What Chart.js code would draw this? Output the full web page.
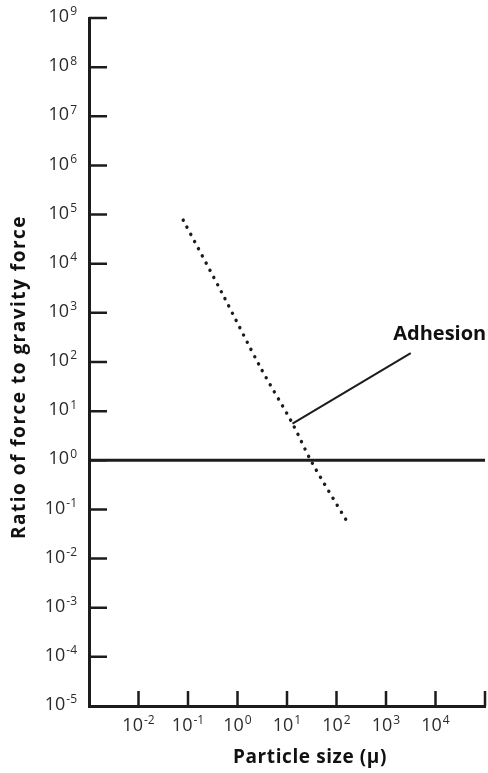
<!DOCTYPE html>
<html>
<head>
<meta charset="utf-8">
<title>Ratio of force to gravity force</title>
<script src="https://cdn.jsdelivr.net/npm/chart.js@4.4.1/dist/chart.umd.min.js"></script>
<style>
  html, body { margin: 0; padding: 0; background: #fff; }
  #chart { display: block; }
</style>
</head>
<body>
<canvas id="chart" width="488" height="773"></canvas>
<script>
// tick values (decades)
const sizeTicks = [1e-2, 1e-1, 1e0, 1e1, 1e2, 1e3, 1e4, 1e5];
const sizeLabelled = [1e-2, 1e-1, 1e0, 1e1, 1e2, 1e3, 1e4];
const ratioTicks = [1e-5, 1e-4, 1e-3, 1e-2, 1e-1, 1e0, 1e1, 1e2, 1e3, 1e4, 1e5, 1e6, 1e7, 1e8, 1e9];

// adhesion curve (dotted)
const adhesionSize = [0.08, 0.49, 2.9, 12.9, 31, 166];
const adhesionRatio = [7.7e4, 2.5e3, 78, 5.6, 0.95, 0.055];

// leader line from curve to the "Adhesion" label
const leaderSize = [12.9, 3160];
const leaderRatio = [5.6, 151];

// ratio = 1 reference line
const unitySize = [1e-3, 1e5];
const unityRatio = [1, 1];

const INK = "#1c1c1c";
const LABEL_INK = "#2b2b2b";
const FONT = "'Open Sans', 'DejaVu Sans', sans-serif";

function pts(xs, ys) {
  return xs.map((x, i) => ({ x: x, y: ys[i] }));
}

// draws "10" with a raised exponent; align: 'right' or 'center'
function drawPower(ctx, v, x, y, align) {
  const base = "10";
  const exp = String(Math.round(Math.log10(v)));
  ctx.font = "18px " + FONT;
  const wBase = ctx.measureText(base).width;
  ctx.font = "12px " + FONT;
  const wExp = ctx.measureText(exp).width;
  const total = wBase + wExp + 1;
  const left = align === "right" ? x - total : x - total / 2;
  ctx.textAlign = "left";
  ctx.textBaseline = "middle";
  ctx.font = "18px " + FONT;
  ctx.fillText(base, left, y);
  ctx.font = "12px " + FONT;
  ctx.fillText(exp, left + wBase + 1, y - 5);
}

const decorations = {
  id: "decorations",
  afterDraw(chart) {
    const ctx = chart.ctx;
    const xs = chart.scales.x;
    const ys = chart.scales.y;
    const area = chart.chartArea;
    ctx.save();

    // inward tick marks
    ctx.strokeStyle = INK;
    ctx.lineWidth = 2.5;
    ctx.beginPath();
    ratioTicks.forEach(v => {
      if (v === ys.min) return;
      const py = ys.getPixelForValue(v);
      ctx.moveTo(area.left, py);
      ctx.lineTo(area.left + 18, py);
    });
    sizeTicks.forEach(v => {
      const px = xs.getPixelForValue(v);
      ctx.moveTo(px, area.bottom);
      ctx.lineTo(px, area.bottom - 15);
    });
    ctx.stroke();

    // tick labels
    ctx.fillStyle = LABEL_INK;
    ratioTicks.forEach(v => {
      drawPower(ctx, v, area.left - 12, ys.getPixelForValue(v) - 1, "right");
    });
    sizeLabelled.forEach(v => {
      drawPower(ctx, v, xs.getPixelForValue(v), area.bottom + 20, "center");
    });

    // axis titles
    ctx.fillStyle = "#111";
    ctx.textAlign = "center";
    ctx.textBaseline = "middle";
    ctx.font = "bold 19px " + FONT;
    ctx.letterSpacing = "0.6px";
    ctx.fillText("Particle size (\u03bc)", area.left + 221, area.bottom + 52);
    ctx.save();
    ctx.translate(20, area.top + 359);
    ctx.rotate(-Math.PI / 2);
    ctx.letterSpacing = "1.5px";
    ctx.fillText("Ratio of force to gravity force", 0, 0);
    ctx.restore();
    ctx.letterSpacing = "0px";

    // curve label at the end of the leader
    const lx = xs.getPixelForValue(leaderSize[1]);
    const ly = ys.getPixelForValue(leaderRatio[1]);
    ctx.font = "bold 20px " + FONT;
    ctx.fillText("Adhesion", lx + 29, ly - 19);

    ctx.restore();
  }
};

new Chart(document.getElementById("chart"), {
  type: "line",
  data: {
    datasets: [
      {
        label: "Adhesion",
        data: pts(adhesionSize, adhesionRatio),
        borderColor: INK,
        borderWidth: 3.4,
        borderDash: [0.1, 8],
        borderCapStyle: "round",
        tension: 0.3,
        pointRadius: 0
      },
      {
        label: "Leader",
        data: pts(leaderSize, leaderRatio),
        borderColor: INK,
        borderWidth: 2,
        pointRadius: 0
      },
      {
        label: "Unity",
        data: pts(unitySize, unityRatio),
        borderColor: INK,
        borderWidth: 3,
        pointRadius: 0
      }
    ]
  },
  options: {
    responsive: false,
    animation: false,
    devicePixelRatio: 1,
    layout: { padding: { top: 18, right: 3, left: 0, bottom: 0 } },
    plugins: {
      legend: { display: false },
      tooltip: { enabled: false }
    },
    scales: {
      x: {
        type: "logarithmic",
        position: "bottom",
        min: 1e-3,
        max: 1e5,
        afterBuildTicks: s => { s.ticks = sizeTicks.map(v => ({ value: v })); },
        afterFit: s => { s.height = 67; },
        ticks: { display: false },
        grid: { display: false, drawTicks: false },
        border: { display: true, color: INK, width: 3 }
      },
      y: {
        type: "logarithmic",
        position: "left",
        min: 1e-5,
        max: 1e9,
        afterBuildTicks: s => { s.ticks = ratioTicks.map(v => ({ value: v })); },
        afterFit: s => { s.width = 89; },
        ticks: { display: false },
        grid: { display: false, drawTicks: false },
        border: { display: true, color: INK, width: 3 }
      }
    }
  },
  plugins: [decorations]
});
</script>
</body>
</html>
